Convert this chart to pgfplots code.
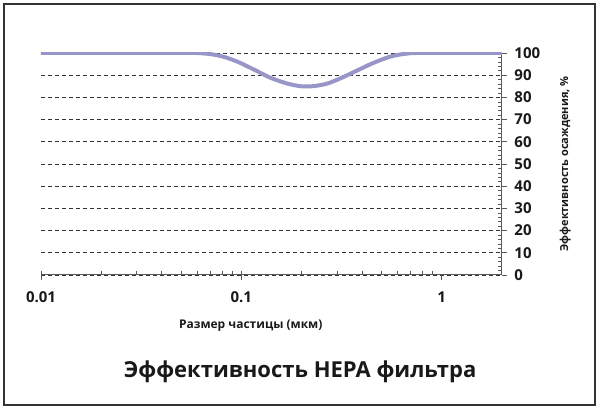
\documentclass[border=0pt]{standalone}
\usepackage{fontspec}
\setmainfont{Open Sans}
\usepackage{pgfplots}
\pgfplotsset{compat=1.18}
\definecolor{hepa}{RGB}{152,150,200}
\begin{document}
\begin{tikzpicture}[x=1pt,y=1pt]
\path (0,0) rectangle (600,409);
\draw[line width=1.8pt, black!80] (4,4) rectangle (595,405);
\begin{axis}[
  at={(41pt,134pt)}, anchor=south west,
  scale only axis, width=461pt, height=222pt,
  xmode=log, xmin=0.01, xmax=2, ymin=0, ymax=100,
  axis x line*=bottom, axis y line*=right,
  axis line style={black!65, line width=1pt, -},
  xtick={0.01,0.1,1}, xticklabels={0.01,0.1,1},
  ytick={0,10,...,100}, minor y tick num=4,
  /pgf/number format/assume math mode=true,
  tick align=outside, major tick length=5pt, minor tick length=-4pt,
  tick style={black!65, line width=0.6pt},
  ymajorgrids,
  grid style={black!80, line width=0.6pt, dash pattern=on 4pt off 3pt},
  ticklabel style={font=\fontsize{15}{15}\selectfont\bfseries, black!90},
  xticklabel style={yshift=-8pt},
  yticklabel style={xshift=4pt},
  xlabel={Размер частицы (мкм)},
  xlabel style={at={(rel axis cs:0.455,-0.23)}, anchor=center,
    font=\fontsize{12}{12}\selectfont\bfseries, black!90},
  ylabel={Эффективность осаждения, \%},
  ylabel style={at={(rel axis cs:1.137,0.5)}, anchor=center,
    font=\fontsize{11}{11}\selectfont\bfseries, black!90},
  title={Эффективность HEPA фильтра},
  title style={at={(rel axis cs:0.562,-0.464)}, anchor=center,
    font=\fontsize{22}{22}\selectfont\bfseries, black!90},
]
\addplot[hepa, line width=4pt, smooth, line cap=round] coordinates {
  (0.01,100) (0.03,100) (0.05,100) (0.06,100) (0.07,99.5) (0.08,98.5)
  (0.09,97) (0.1,95.3) (0.12,91.8) (0.14,88.8) (0.17,86.2) (0.2,85)
  (0.23,85.1) (0.27,86.3) (0.32,89) (0.38,92.2) (0.45,95.3) (0.55,98.3)
  (0.65,99.6) (0.75,100) (1,100) (2,100)
};
\end{axis}
\end{tikzpicture}
\end{document}
